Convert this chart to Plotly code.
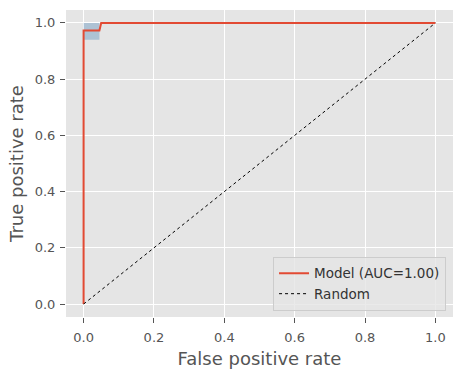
import plotly.graph_objects as go

fpr = [0.0, 0.0, 0.045, 0.05, 1.0]
tpr = [0.0, 0.973, 0.973, 1.0, 1.0]
band_x = [0.0, 0.045, 0.045, 1.0]
band_lo = [0.94, 0.94, 1.0, 1.0]
band_hi = [1.0, 1.0, 1.0, 1.0]
diag = [0.0, 1.0]
auc = 1.00
ticks = [0.0, 0.2, 0.4, 0.6, 0.8, 1.0]
tick_text = ["0.0", "0.2", "0.4", "0.6", "0.8", "1.0"]

fig = go.Figure()
fig.add_trace(go.Scatter(x=band_x, y=band_hi, mode="lines", line=dict(width=0),
                         showlegend=False, hoverinfo="skip"))
fig.add_trace(go.Scatter(x=band_x, y=band_lo, mode="lines", line=dict(width=0),
                         fill="tonexty", fillcolor="rgba(70,130,180,0.35)",
                         showlegend=False, hoverinfo="skip"))
fig.add_trace(go.Scatter(x=fpr, y=tpr, mode="lines", name=f"Model (AUC={auc:.2f})",
                         line=dict(color="#E24A33", width=2)))
fig.add_trace(go.Scatter(x=diag, y=diag, mode="lines", name="Random",
                         line=dict(color="black", width=1, dash="dot")))

axis_common = dict(
    tickvals=ticks, ticktext=tick_text, showgrid=True, gridcolor="white", gridwidth=1,
    zeroline=False, showline=False, ticks="outside", ticklen=5, tickwidth=1,
    tickcolor="#555555", tickfont=dict(size=13, color="#555555"),
    title_font=dict(size=18, color="#555555"), automargin=False,
)
fig.update_xaxes(range=[-0.05, 1.05], title_text="False positive rate", title_standoff=8,
                 ticklabelstandoff=3, **axis_common)
fig.update_yaxes(range=[-0.046, 1.046], title_text="True positive rate", title_standoff=6,
                 ticklabelstandoff=2, **axis_common)

fig.update_layout(
    width=462, height=375,
    margin=dict(l=66, r=9, t=10, b=58),
    paper_bgcolor="white", plot_bgcolor="#E5E5E5",
    font=dict(family="DejaVu Sans", color="#333333"),
    legend=dict(x=0.982, y=0.02, xanchor="right", yanchor="bottom",
                bgcolor="rgba(229,229,229,0.8)", bordercolor="#CCCCCC", borderwidth=1,
                font=dict(size=13.5, color="#333333"), traceorder="normal",
                tracegroupgap=0, itemwidth=30),
)

fig.write_html("out.html", config={"displayModeBar": False},
               post_script="document.body.style.margin='0';")
